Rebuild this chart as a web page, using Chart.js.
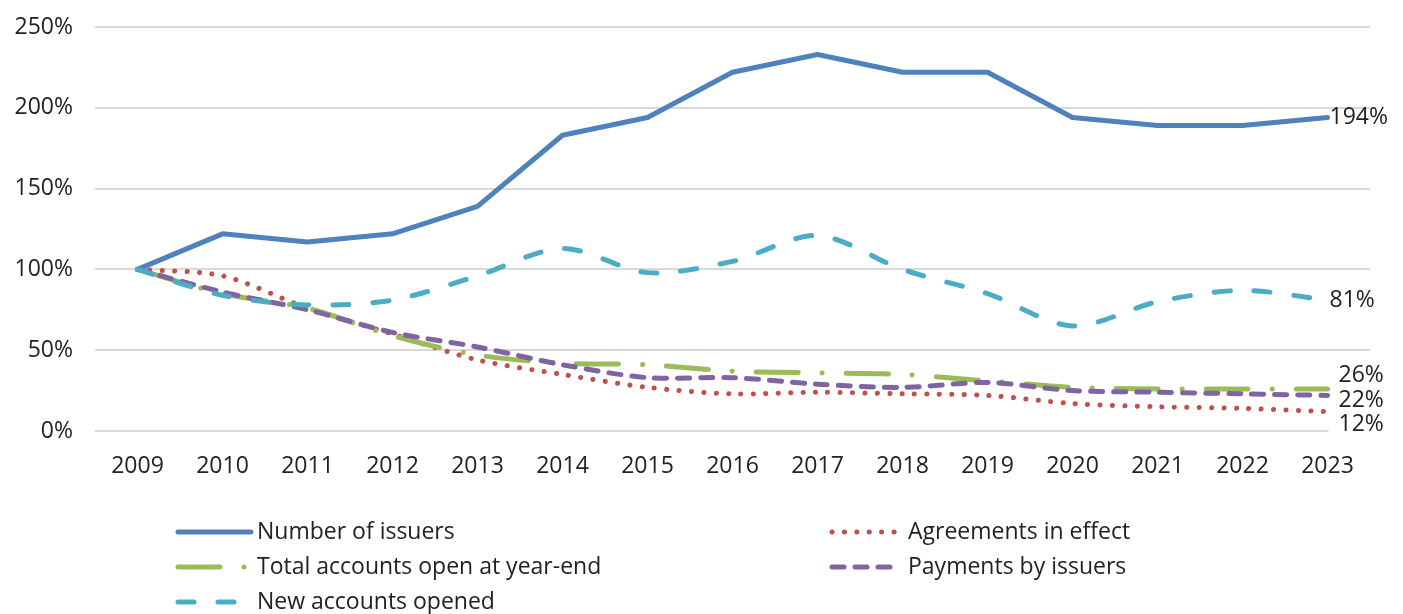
<!DOCTYPE html>
<html>
<head>
<meta charset="utf-8">
<script src="https://cdn.jsdelivr.net/npm/chart.js@4/dist/chart.umd.min.js"></script>
<style>
  html, body { margin: 0; padding: 0; background: #fff; }
  #wrap { width: 1403px; height: 614px; }
</style>
</head>
<body>
<div id="wrap"><canvas id="chart" width="1403" height="614"></canvas></div>
<script>
// categories
const years = ['2009', '2010', '2011', '2012', '2013', '2014', '2015', '2016',
               '2017', '2018', '2019', '2020', '2021', '2022', '2023'];

// series, % of 2009 level
const issuers    = [100, 122, 117, 122, 139, 183, 194, 222, 233, 222, 222, 194, 189, 189, 194];
const agreements = [100, 96, 76, 60, 44, 35, 27, 23, 24, 23, 22, 17, 15, 14, 12];
const totalOpen  = [100, 85, 76, 59, 47, 42, 41, 37, 36, 35, 31, 27, 26, 26, 26];
const payments   = [100, 86, 75, 61, 52, 41, 33, 33, 29, 27, 30, 25, 24, 23, 22];
const newOpened  = [100, 84, 78, 81, 96, 113, 98, 105, 121, 100, 85, 65, 80, 87, 81];

// y axis ticks
const yTicks = [0, 50, 100, 150, 200, 250];

const FONT = "'Open Sans', sans-serif";
const TEXT = '#222222';

// end label shifts (dx, dy) per dataset, so the low ones don't overlap
const endShift = [[2, 0], [11, 13], [11, -14], [11, 5], [2, 0]];

const endLabels = {
    id: 'endLabels',
    afterDatasetsDraw(chart) {
        const c = chart.ctx;
        c.save();
        c.font = '23px ' + FONT;
        c.textBaseline = 'middle';
        c.textAlign = 'left';
        chart.data.datasets.forEach((ds, i) => {
            const pts = chart.getDatasetMeta(i).data;
            const p = pts[pts.length - 1];
            const txt = Math.round(ds.data[ds.data.length - 1]) + '%';
            const x = p.x + endShift[i][0];
            const y = p.y + endShift[i][1];
            if (i === 1) {
                // white box behind the bottom label, hides the axis line like the original
                const w = c.measureText(txt).width;
                c.fillStyle = '#fff';
                c.fillRect(x - 10, y - 12, w + 14, 24);
            }
            c.fillStyle = TEXT;
            c.fillText(txt, x, y);
        });
        c.restore();
    }
};

// two-column legend under the plot
const legendSlots = [
    { x: 178, len: 73, tx: 257, y: 532 },
    { x: 832, len: 64, tx: 908, y: 532 },
    { x: 178, len: 73, tx: 257, y: 567 },
    { x: 832, len: 64, tx: 908, y: 567 },
    { x: 178, len: 66, tx: 257, y: 602 }
];

const colLegend = {
    id: 'colLegend',
    afterDraw(chart) {
        const c = chart.ctx;
        c.save();
        c.font = '23px ' + FONT;
        c.textBaseline = 'middle';
        chart.data.datasets.forEach((ds, i) => {
            const s = legendSlots[i];
            c.strokeStyle = ds.borderColor;
            c.lineWidth = ds.borderWidth;
            c.lineCap = 'round';
            c.setLineDash(ds.borderDash || []);
            c.beginPath();
            c.moveTo(s.x, s.y);
            c.lineTo(s.x + s.len, s.y);
            c.stroke();
            c.setLineDash([]);
            c.fillStyle = TEXT;
            c.fillText(ds.label, s.tx, s.y);
        });
        c.restore();
    }
};

const ctx = document.getElementById('chart').getContext('2d');

new Chart(ctx, {
    type: 'line',
    data: {
        labels: years,
        datasets: [
            {
                label: 'Number of issuers',
                data: issuers,
                borderColor: '#4f81bd',
                borderWidth: 5,
                tension: 0,
                order: 5
            },
            {
                label: 'Agreements in effect',
                data: agreements,
                borderColor: '#c0504d',
                borderWidth: 5,
                borderDash: [0.1, 12.3],
                tension: 0.3,
                order: 4
            },
            {
                label: 'Total accounts open at year-end',
                data: totalOpen,
                borderColor: '#9bbb59',
                borderWidth: 5,
                borderDash: [42, 24, 0.1, 24],
                tension: 0.3,
                order: 3
            },
            {
                label: 'Payments by issuers',
                data: payments,
                borderColor: '#8064a2',
                borderWidth: 5,
                borderDash: [12, 11],
                tension: 0.3,
                order: 2
            },
            {
                label: 'New accounts opened',
                data: newOpened,
                borderColor: '#4bacc6',
                borderWidth: 5,
                borderDash: [16, 24],
                tension: 0.3,
                order: 1
            }
        ]
    },
    options: {
        responsive: false,
        animation: false,
        elements: {
            point: { radius: 0, hoverRadius: 0 },
            line: { borderCapStyle: 'round', borderJoinStyle: 'round', fill: false }
        },
        layout: {
            padding: { top: 27, right: 33, bottom: 130, left: 0 }
        },
        scales: {
            x: {
                offset: true,
                grid: { display: false, offset: true },
                border: { display: false },
                ticks: {
                    color: TEXT,
                    font: { family: FONT, size: 23 },
                    padding: 14,
                    maxRotation: 0
                },
                afterFit(scale) { scale.height = 53; }
            },
            y: {
                min: 0,
                max: 250,
                afterBuildTicks(scale) {
                    scale.ticks = yTicks.map(v => ({ value: v }));
                },
                grid: { color: '#d9d9d9', lineWidth: 2, drawTicks: false },
                border: { display: false },
                ticks: {
                    color: TEXT,
                    font: { family: FONT, size: 23 },
                    padding: 22,
                    callback: v => v + '%'
                },
                afterFit(scale) {
                    scale.width = 95;
                    scale.paddingTop = 0;
                    scale.paddingBottom = 0;
                }
            }
        },
        plugins: {
            legend: { display: false },
            tooltip: { enabled: false }
        }
    },
    plugins: [endLabels, colLegend]
});
</script>
</body>
</html>
